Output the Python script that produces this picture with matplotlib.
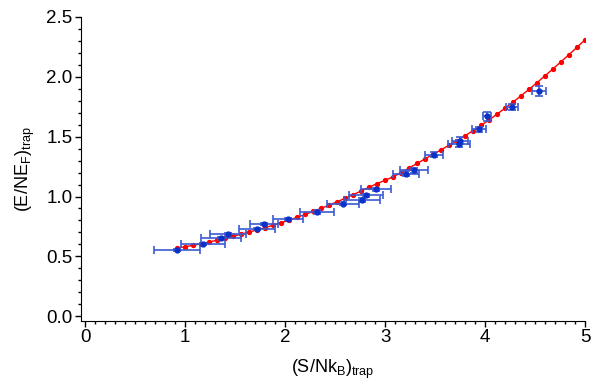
import matplotlib
matplotlib.use("Agg")
import matplotlib.pyplot as plt
from matplotlib.ticker import MultipleLocator

plt.rcParams['font.family'] = ['Liberation Sans', 'DejaVu Sans']

# theory curve (red)
s_theory = [0.92, 1.00, 1.08, 1.16, 1.24, 1.32, 1.40, 1.48, 1.56, 1.64,
            1.72, 1.80, 1.88, 1.96, 2.04, 2.12, 2.20, 2.28, 2.36, 2.44,
            2.52, 2.60, 2.68, 2.76, 2.84, 2.92, 3.00, 3.08, 3.16, 3.24,
            3.32, 3.40, 3.48, 3.56, 3.64, 3.72, 3.80, 3.88, 3.96, 4.04,
            4.12, 4.20, 4.28, 4.36, 4.44, 4.52, 4.60, 4.68, 4.76, 4.84,
            4.92, 5.00]
e_theory = [0.570, 0.580, 0.592, 0.605, 0.620, 0.635, 0.652, 0.668, 0.685, 0.703,
            0.721, 0.740, 0.760, 0.781, 0.803, 0.826, 0.850, 0.875, 0.901, 0.928,
            0.956, 0.985, 1.015, 1.046, 1.077, 1.108, 1.135, 1.165, 1.200, 1.238,
            1.276, 1.315, 1.352, 1.390, 1.429, 1.468, 1.508, 1.550, 1.594, 1.640,
            1.688, 1.738, 1.789, 1.842, 1.896, 1.952, 2.009, 2.067, 2.126, 2.186,
            2.247, 2.310]

# measured points (blue)
s_data = [0.92, 1.18, 1.36, 1.43, 1.72, 1.79, 2.03, 2.32, 2.58, 2.77,
          2.81, 2.91, 3.21, 3.29, 3.49, 3.74, 3.75, 3.94, 4.02, 4.27, 4.54]
e_data = [0.555, 0.605, 0.65, 0.686, 0.727, 0.77, 0.81, 0.87, 0.94, 0.97,
          1.01, 1.06, 1.19, 1.22, 1.35, 1.44, 1.465, 1.56, 1.67, 1.75, 1.88]
s_err = [0.23, 0.22, 0.20, 0.18, 0.18, 0.14, 0.15, 0.17, 0.16, 0.18,
         0.17, 0.15, 0.13, 0.14, 0.09, 0.11, 0.08, 0.07, 0.04, 0.06, 0.07]
e_err = [0.01, 0.01, 0.01, 0.01, 0.01, 0.01, 0.01, 0.015, 0.015, 0.015,
         0.015, 0.015, 0.02, 0.02, 0.02, 0.03, 0.03, 0.02, 0.04, 0.025, 0.04]

fig = plt.figure(figsize=(5.93, 3.88), dpi=100)
ax = fig.add_axes([0.1366, 0.1727, 0.85, 0.7835])

ax.plot(s_theory, e_theory, color='#ff0000', lw=1, marker='o', ms=2.8, zorder=2)
ax.errorbar(s_data, e_data, xerr=s_err, yerr=e_err, fmt='o', ms=3.5,
            color='#0a32c8', ecolor='#3c5ad2', elinewidth=1.2, capsize=3,
            capthick=1.2, zorder=3)

ax.set_xlim(-0.04, 5)
ax.set_ylim(-0.04, 2.5)
ax.xaxis.set_major_locator(MultipleLocator(1))
ax.xaxis.set_minor_locator(MultipleLocator(0.1))
ax.yaxis.set_major_locator(MultipleLocator(0.5))
ax.yaxis.set_minor_locator(MultipleLocator(0.1))
ax.yaxis.set_major_formatter(plt.FormatStrFormatter('%.1f'))
ax.spines['top'].set_visible(False)
ax.spines['right'].set_visible(False)
ax.tick_params(which='major', direction='out', length=4, width=1, labelsize=13.5, pad=2)
ax.tick_params(which='minor', direction='out', length=2, width=1)

ax.set_xlabel(r'(S/Nk$_\mathregular{B}$)$_\mathregular{trap}$', fontsize=13, labelpad=8)
ax.set_ylabel(r'(E/NE$_\mathregular{F}$)$_\mathregular{trap}$', fontsize=13, labelpad=7)

plt.savefig("out.png", dpi=100)
